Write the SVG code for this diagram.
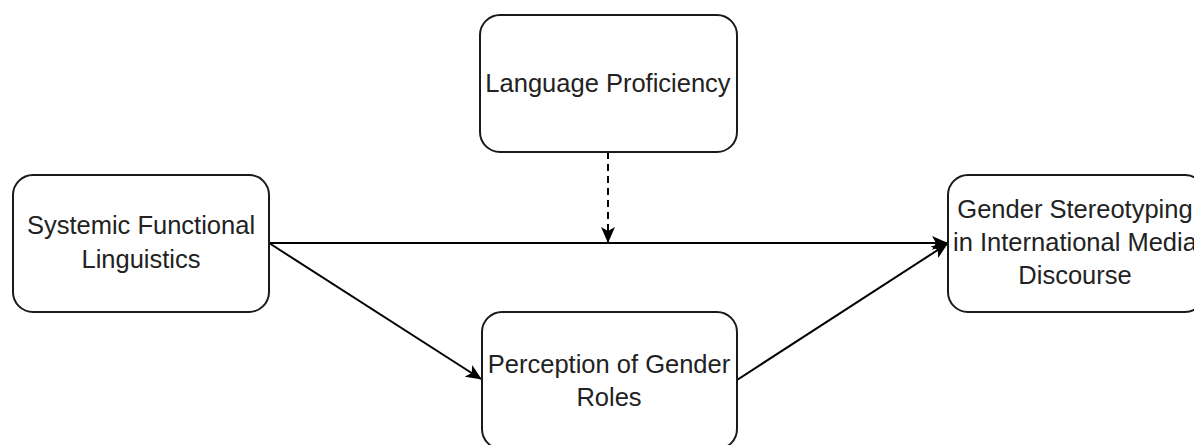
<svg xmlns="http://www.w3.org/2000/svg" width="1194" height="445" viewBox="0 0 1194 445">
<style>
.box{fill:#ffffff;stroke:#1a1a1a;stroke-width:2}
.lbl{font-family:"Liberation Sans",Arial,sans-serif;font-size:25.5px;fill:#222222;text-anchor:middle}
.edge{fill:none;stroke:#000;stroke-width:2}
.dash{stroke-dasharray:7 5}
</style>
<defs>
<marker id="arr" viewBox="0 0 16 14" refX="15" refY="7" markerWidth="16" markerHeight="14" markerUnits="userSpaceOnUse" orient="auto">
<path d="M0,0 L16,7 L0,14 L4,7 Z" fill="#000"/>
</marker>
</defs>
<rect width="1194" height="445" fill="#ffffff"/>
<g id="connectors">
<line class="edge" x1="269" y1="243" x2="947" y2="243" marker-end="url(#arr)"/>
<line class="edge dash" x1="608" y1="152" x2="608" y2="242" marker-end="url(#arr)"/>
<line class="edge" x1="269" y1="243" x2="481" y2="379" marker-end="url(#arr)"/>
<line class="edge" x1="737" y1="380" x2="947" y2="244" marker-end="url(#arr)"/>
</g>
<g id="node-sfl">
<rect class="box" x="13" y="175" width="256" height="137" rx="20"/>
<text class="lbl" x="141" y="234">Systemic Functional</text>
<text class="lbl" x="141" y="268">Linguistics</text>
</g>
<g id="node-lp">
<rect class="box" x="480" y="15" width="257" height="137" rx="20"/>
<text class="lbl" x="608" y="92">Language Proficiency</text>
</g>
<g id="node-pgr">
<rect class="box" x="482" y="312" width="255" height="137" rx="20"/>
<text class="lbl" x="609" y="373">Perception of Gender</text>
<text class="lbl" x="609" y="406">Roles</text>
</g>
<g id="node-gs">
<rect class="box" x="948" y="175" width="257" height="137" rx="20"/>
<text class="lbl" x="1075" y="218">Gender Stereotyping</text>
<text class="lbl" x="1075" y="251">in International Media</text>
<text class="lbl" x="1075" y="284">Discourse</text>
</g>
</svg>
